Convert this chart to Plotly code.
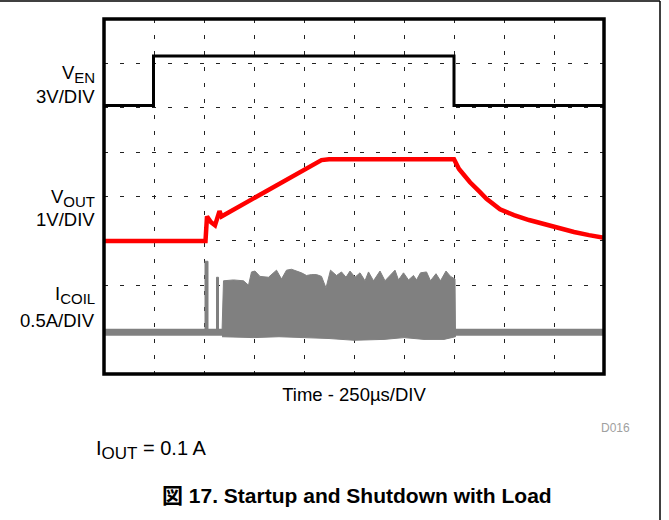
import plotly.graph_objects as go

# ---------------------------------------------------------------
# Scope capture: startup and shutdown with load (I_OUT = 0.1 A)
# Horizontal: 10 divisions of 250 us, vertical: 8 divisions.
# ---------------------------------------------------------------

# Channel settings: volts (or amps) per division and ground position (div from bottom)
VEN_PER_DIV, VEN_GND_DIV = 3.0, 6.05
VOUT_PER_DIV, VOUT_GND_DIV = 1.0, 3.0
ICOIL_PER_DIV, ICOIL_GND_DIV = 0.5, 0.94
N_DIV_X, N_DIV_Y = 10, 8

# Time axis in divisions (1 div = 250 us)
ven_t = [0.0, 0.99, 0.99, 7.0, 7.0, 10.0]
ven_v = [0.0, 0.0, 3.35, 3.35, 0.0, 0.0]

vout_t = [0.0, 2.03, 2.06, 2.14, 2.22, 2.29, 2.31, 2.35, 2.6, 2.85, 3.32, 3.8,
          4.1, 4.25, 4.35, 4.5, 5.0, 5.5, 6.0, 6.5, 7.0, 7.1, 7.2, 7.32, 7.5,
          7.65, 7.92, 8.2, 8.5, 8.8, 9.1, 9.4, 9.7, 10.0]
vout_v = [0.0, 0.0, 0.55, 0.42, 0.35, 0.60, 0.67, 0.55, 0.71, 0.87, 1.18, 1.49,
          1.68, 1.77, 1.82, 1.84, 1.84, 1.84, 1.84, 1.84, 1.84, 1.62, 1.47, 1.32, 1.12,
          0.95, 0.71, 0.58, 0.47, 0.38, 0.28, 0.20, 0.13, 0.07]

# Coil current: idle level and the two first switching pulses
icoil_idle_t = [0.0, 10.0]
icoil_idle_a = [0.0, 0.0]
pulse_t0 = [2.02, 2.25]
pulse_t1 = [2.08, 2.29]
pulse_peak = [0.80, 0.62]

# Switching burst: upper envelope of the current peaks
burst_t = [2.36, 2.39, 2.59, 2.79, 2.89, 2.95, 3.02, 3.12, 3.29, 3.45, 3.55, 3.65,
           3.75, 3.85, 3.95, 4.05, 4.15, 4.25, 4.35, 4.44, 4.53, 4.65, 4.75, 4.84,
           4.92, 5.02, 5.12, 5.22, 5.29, 5.39, 5.52, 5.62, 5.69, 5.82, 5.89, 5.99,
           6.09, 6.19, 6.25, 6.33, 6.45, 6.53, 6.64, 6.73, 6.84, 6.93, 7.02, 7.03]
burst_a = [0.0, 0.58, 0.59, 0.58, 0.53, 0.68, 0.69, 0.63, 0.62, 0.70, 0.60, 0.70,
           0.71, 0.69, 0.67, 0.64, 0.65, 0.65, 0.63, 0.50, 0.70, 0.64, 0.68, 0.62,
           0.69, 0.62, 0.67, 0.58, 0.68, 0.58, 0.69, 0.58, 0.62, 0.70, 0.59, 0.67,
           0.59, 0.64, 0.59, 0.67, 0.68, 0.58, 0.66, 0.58, 0.69, 0.63, 0.60, 0.0]
# Lower edge of the burst (valleys of the switching ripple)
burst_floor_t = [7.03, 6.8, 6.4, 6.0, 5.6, 5.0, 4.5, 4.0, 3.5, 3.0, 2.36]
burst_floor_a = [-0.05, -0.08, -0.08, -0.06, -0.08, -0.09, -0.07, -0.06, -0.05, -0.06, -0.05]

# Figure geometry (pixels)
W, H = 669, 520
PL, PR, PT, PB = 104, 604, 19, 374


def fx(x_px):
    return (x_px - PL) / (PR - PL)


def fy(y_px):
    return (PB - y_px) / (PB - PT)


def chan_range(per_div, gnd_div):
    return [-gnd_div * per_div, (N_DIV_Y - gnd_div) * per_div]


FONT = "Liberation Sans, Arial, Noto Sans CJK JP, sans-serif"
GRAY = "#808080"

fig = go.Figure()

# I_COIL
fig.add_trace(go.Scatter(x=icoil_idle_t, y=icoil_idle_a, yaxis="y3", mode="lines",
                         line=dict(color=GRAY, width=7), hoverinfo="skip"))
for t0, t1, pk in zip(pulse_t0, pulse_t1, pulse_peak):
    fig.add_trace(go.Scatter(x=[t0, t0, t1, t1], y=[0, pk, pk, 0], yaxis="y3",
                             mode="lines", fill="toself", fillcolor=GRAY,
                             line=dict(color=GRAY, width=1), hoverinfo="skip"))
fig.add_trace(go.Scatter(x=burst_t + burst_floor_t, y=burst_a + burst_floor_a, yaxis="y3",
                         mode="lines", fill="toself", fillcolor=GRAY,
                         line=dict(color=GRAY, width=1), hoverinfo="skip"))

# V_OUT
fig.add_trace(go.Scatter(x=vout_t, y=vout_v, yaxis="y", mode="lines",
                         line=dict(color="#ff0000", width=4.5), hoverinfo="skip"))

# V_EN
fig.add_trace(go.Scatter(x=ven_t, y=ven_v, yaxis="y2", mode="lines",
                         line=dict(color="black", width=3), hoverinfo="skip"))

grid = dict(showgrid=True, gridcolor="#222222", gridwidth=1, griddash="4px,12px",
            zeroline=False, showticklabels=False, ticks="", showline=False)

fig.update_layout(
    width=W, height=H,
    margin=dict(l=PL, r=W - PR, t=PT, b=H - PB, autoexpand=False),
    paper_bgcolor="white", plot_bgcolor="white",
    showlegend=False,
    font=dict(family=FONT, color="black"),
    xaxis=dict(range=[0, N_DIV_X], tick0=0, dtick=1, **grid,
               title=dict(text="Time - 250µs/DIV", font=dict(size=18.5, family=FONT),
                          standoff=14)),
    yaxis=dict(range=chan_range(VOUT_PER_DIV, VOUT_GND_DIV), tick0=0, dtick=VOUT_PER_DIV, **grid),
    yaxis2=dict(range=chan_range(VEN_PER_DIV, VEN_GND_DIV), overlaying="y", visible=False),
    yaxis3=dict(range=chan_range(ICOIL_PER_DIV, ICOIL_GND_DIV), overlaying="y", visible=False),
)

# Screen frame and page border lines
fig.add_shape(type="rect", xref="paper", yref="paper", x0=0, x1=1, y0=0, y1=1,
              line=dict(color="black", width=3.5), layer="above")
fig.add_shape(type="line", xref="paper", yref="paper", x0=fx(0), x1=fx(660),
              y0=fy(1), y1=fy(1), line=dict(color="black", width=1.5))
fig.add_shape(type="line", xref="paper", yref="paper", x0=fx(660), x1=fx(660),
              y0=fy(1), y1=fy(H), line=dict(color="black", width=1.5))

# Channel labels (name with subscript, then scale)
SUB = "<sub><span style='font-size:15px'>{}</span></sub>"
labels = [
    ("V" + SUB.format("EN"), 74), ("3V/DIV", 96),
    ("V" + SUB.format("OUT"), 198), ("1V/DIV", 219),
    ("I" + SUB.format("COIL"), 295), ("0.5A/DIV", 320),
]
for txt, ypx in labels:
    fig.add_annotation(text=txt, xref="paper", yref="paper", x=fx(97), y=fy(ypx),
                       xanchor="right", yanchor="middle", showarrow=False,
                       font=dict(size=18.5, family=FONT, color="black"))

fig.add_annotation(text="D016", xref="paper", yref="paper", x=fx(632), y=fy(428),
                   xanchor="right", yanchor="middle", showarrow=False,
                   font=dict(size=12, family=FONT, color="#a0a0a0"))
fig.add_annotation(text="I<sub><span style='font-size:17px'>OUT</span></sub> = 0.1 A",
                   xref="paper", yref="paper", x=fx(94), y=fy(450), xanchor="left",
                   yanchor="middle", showarrow=False,
                   font=dict(size=20, family=FONT, color="black"))
fig.add_annotation(text="<b>図 17. Startup and Shutdown with Load</b>", xref="paper",
                   yref="paper", x=fx(357), y=fy(495), xanchor="center", yanchor="middle",
                   showarrow=False, font=dict(size=21, family=FONT, color="black"))

fig.write_html("out.html")
